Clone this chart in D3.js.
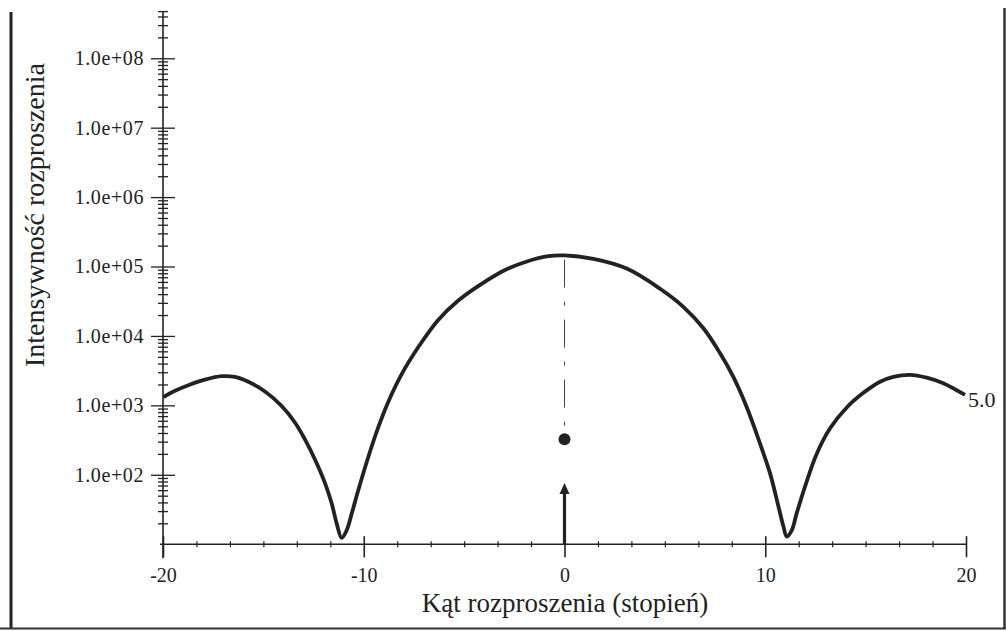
<!DOCTYPE html>
<html lang="pl">
<head>
<meta charset="utf-8">
<title>Intensywnosc rozproszenia</title>
<script src="https://d3js.org/d3.v7.min.js"></script>
<style>
  body { margin: 0; background: #fff; }
  text { font-family: "Liberation Serif", "DejaVu Serif", serif; fill: #222; }
  .axis path, .axis line { stroke: #222; fill: none; }
</style>
</head>
<body>
<script>
// scattering angle (degrees) and log10 of intensity
var angle = [-19.98, -19.40, -18.74, -17.91, -17.08, -16.41, -15.75, -14.92, -14.09, -13.42, -12.93, -12.43,
             -11.93, -11.60, -11.35, -11.10, -10.85, -10.60, -10.27, -9.77, -9.27, -8.78, -8.11, -7.28,
             -6.29, -5.29, -4.13, -2.96, -1.80, -0.81, 0,
             1.44, 3.10, 4.76, 5.92, 6.92, 7.75, 8.41, 9.07, 9.74, 10.24, 10.66, 10.91, 11.07, 11.32,
             11.56, 11.98, 12.56, 13.23, 14.06, 14.89, 15.72, 16.38, 17.21, 18.04, 18.87, 19.95];
var logIntensity = [3.12, 3.21, 3.29, 3.37, 3.42, 3.41, 3.34, 3.20, 2.99, 2.75, 2.51, 2.22,
                    1.88, 1.59, 1.30, 1.09, 1.20, 1.44, 1.78, 2.26, 2.69, 3.05, 3.45, 3.84,
                    4.23, 4.51, 4.75, 4.95, 5.08, 5.15, 5.16,
                    5.11, 4.97, 4.68, 4.42, 4.11, 3.75, 3.41, 2.98, 2.45, 2.02, 1.54, 1.25, 1.11, 1.20,
                    1.44, 1.83, 2.30, 2.67, 2.97, 3.18, 3.34, 3.41, 3.44, 3.40, 3.32, 3.15];
var intensity = logIntensity.map(function(d){ return Math.pow(10, d); });

var xMajor = [-20, -10, 0, 10, 20];
var xTickLabels = ["-20", "-10", "0", "10", "20"];
var yMajor = [1e2, 1e3, 1e4, 1e5, 1e6, 1e7, 1e8];
var yTickLabels = ["1.0e+02", "1.0e+03", "1.0e+04", "1.0e+05", "1.0e+06", "1.0e+07", "1.0e+08"];

var beamDot = 326;      // marker on the centre line
var arrowTip = 76;      // arrow from the axis
var curveLabel = "5.0";

var w = 1008, h = 631;
var svg = d3.select("body").append("svg")
            .attr("width", w)
            .attr("height", h);

var xScale = d3.scaleLinear().domain([-20, 20]).range([163, 966]);
var yScale = d3.scaleLog().domain([10, 4.7e8]).range([544.2, 11.6]);

// frame
svg.append("line").attr("x1", 11).attr("x2", 11).attr("y1", 12).attr("y2", 629)
   .attr("stroke", "#222").attr("stroke-width", 3);
svg.append("line").attr("x1", 0).attr("x2", 1006).attr("y1", 628.5).attr("y2", 628.5)
   .attr("stroke", "#333").attr("stroke-width", 2);
svg.append("line").attr("x1", 1004.5).attr("x2", 1004.5).attr("y1", 8).attr("y2", 629)
   .attr("stroke", "#333").attr("stroke-width", 2.5);

// y axis: ticks on both sides
var yMinor = yScale.ticks().filter(function(d){ return yMajor.indexOf(d) < 0 && d > 10; });
var yx = xScale(-20);
function yAx(axis, vals, size, labels) {
  var g = svg.append("g").attr("class", "axis")
     .attr("transform", "translate(" + yx + ",0)")
     .call(axis(yScale).tickValues(vals).tickSize(size).tickPadding(7)
           .tickFormat(labels ? function(d, i){ return labels[i]; } : function(){ return ""; }));
  g.select(".domain").remove();
  g.selectAll("line").attr("stroke-width", 1.3);
  g.selectAll("text").style("font-size", "20px").style("letter-spacing", "0.6px");
  return g;
}
yAx(d3.axisLeft, yMajor, 12, yTickLabels);
yAx(d3.axisRight, yMajor, 12, null);
yAx(d3.axisLeft, yMinor, 5, null);
yAx(d3.axisRight, yMinor, 5, null);
svg.append("line").attr("x1", yx).attr("x2", yx)
   .attr("y1", yScale.range()[1]).attr("y2", yScale(10) + 14)
   .attr("stroke", "#222").attr("stroke-width", 1.6);
svg.append("line").attr("x1", yx - 5).attr("x2", yx + 5)
   .attr("y1", yScale.range()[1]).attr("y2", yScale.range()[1])
   .attr("stroke", "#222").attr("stroke-width", 1.3);

// x axis
var xMinor = d3.range(-20, 20.001, 10 / 6).filter(function(d){
  return xMajor.indexOf(Math.round(d * 100) / 100) < 0; });
var ax0 = yScale(10);
var gx = svg.append("g").attr("class", "axis")
   .attr("transform", "translate(0," + ax0 + ")")
   .call(d3.axisBottom(xScale).tickValues(xMajor).tickSize(13).tickPadding(11)
         .tickFormat(function(d, i){ return xTickLabels[i]; }));
gx.select(".domain").remove();
gx.selectAll("line").attr("y1", -8).attr("stroke-width", 1.6);
gx.selectAll("text").style("font-size", "20px");
var gx2 = svg.append("g").attr("class", "axis")
   .attr("transform", "translate(0," + ax0 + ")")
   .call(d3.axisBottom(xScale).tickValues(xMinor).tickSize(3).tickFormat(""));
gx2.select(".domain").remove();
gx2.selectAll("line").attr("y1", -3).attr("stroke-width", 1.2);
svg.append("line").attr("x1", xScale(-20) - 3).attr("x2", xScale(20))
   .attr("y1", ax0).attr("y2", ax0).attr("stroke", "#222").attr("stroke-width", 1.6);

// titles
svg.append("text").attr("x", 565).attr("y", 612)
   .attr("text-anchor", "middle").style("font-size", "27px")
   .text("Kąt rozproszenia (stopień)");
svg.append("text").attr("transform", "translate(44,215) rotate(-90)")
   .attr("text-anchor", "middle").style("font-size", "28px")
   .text("Intensywność rozproszenia");

// centre line, dot and arrow
svg.append("line").attr("x1", xScale(0)).attr("x2", xScale(0))
   .attr("y1", yScale(Math.pow(10, 5.1))).attr("y2", yScale(beamDot) - 9)
   .attr("stroke", "#444").attr("stroke-width", 1)
   .attr("stroke-dasharray", "28 14 4 14");
svg.append("circle").attr("cx", xScale(0)).attr("cy", yScale(beamDot)).attr("r", 6)
   .attr("fill", "#222");
svg.append("line").attr("x1", xScale(0)).attr("x2", xScale(0))
   .attr("y1", ax0).attr("y2", yScale(arrowTip) + 8)
   .attr("stroke", "#222").attr("stroke-width", 3.2);
var tipY = yScale(arrowTip), cx0 = xScale(0);
svg.append("path")
   .attr("d", "M" + cx0 + "," + tipY + "L" + (cx0 - 5) + "," + (tipY + 11) + "L" + (cx0 + 5) + "," + (tipY + 11) + "Z")
   .attr("fill", "#222");

// intensity curve
var line = d3.line()
   .x(function(d, i){ return xScale(angle[i]); })
   .y(function(d){ return yScale(d); })
   .curve(d3.curveCatmullRom.alpha(0.5));
svg.append("path").datum(intensity)
   .attr("d", line)
   .attr("fill", "none")
   .attr("stroke", "#222")
   .attr("stroke-width", 3.8)
   .attr("stroke-linejoin", "round");

svg.append("text")
   .attr("x", xScale(angle[angle.length - 1]) + 3)
   .attr("y", yScale(intensity[intensity.length - 1]) + 12)
   .style("font-size", "22px")
   .text(curveLabel);
</script>
</body>
</html>
